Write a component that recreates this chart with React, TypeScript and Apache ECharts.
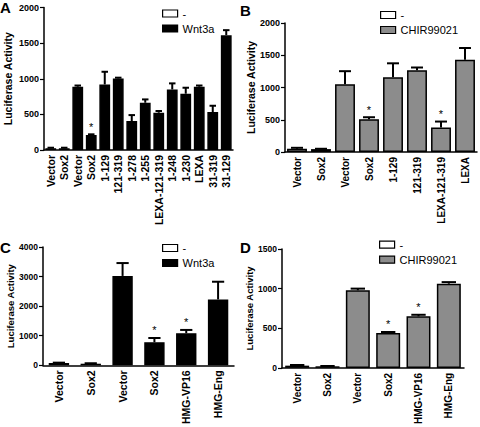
import React, { useEffect, useRef } from 'react';
import * as echarts from 'echarts';

// ---------- data ----------
const catsA = ['Vector', 'Sox2', 'Vector', 'Sox2', '1-129', '121-319', '1-278', '1-255', 'LEXA-121-319', '1-248', '1-230', 'LEXA', '31-319', '31-129'];
const valsA = [25, 25, 888, 210, 920, 1005, 406, 663, 523, 850, 790, 888, 533, 1612];
const errA = [32, 32, 905, 220, 1098, 1015, 490, 710, 547, 935, 874, 905, 621, 1682];
const starA = [3];

const catsB = ['Vector', 'Sox2', 'Vector', 'Sox2', '1-129', '121-319', 'LEXA-121-319', 'LEXA'];
const valsB = [50, 45, 1052, 508, 1158, 1268, 379, 1431];
const errB = [65, 50, 1253, 539, 1375, 1310, 472, 1612];
const starB = [3, 6];

const catsC = ['Vector', 'Sox2', 'Vector', 'Sox2', 'HMG-VP16', 'HMG-Eng'];
const valsC = [76, 54, 3022, 783, 1087, 2228];
const errC = [90, 70, 3457, 924, 1196, 2826];
const starC = [3, 4];

const catsD = ['Vector', 'Sox2', 'Vector', 'Sox2', 'HMG-VP16', 'HMG-Eng'];
const valsD = [28, 20, 979, 440, 650, 1062];
const errD = [36, 24, 1000, 453, 670, 1082];
const starD = [3, 4];

const ctrlCount = 2; // first two bars belong to the "-" group
const ctrlName = '-';
const treatA = 'Wnt3a';
const treatB = 'CHIR99021';
const yMax = [2000, 2000, 4000, 1500];
const yStep = [500, 500, 1000, 500];
const letters = ['A', 'B', 'C', 'D'];
const yName = 'Luciferase Activity';

// ---------- layout ----------
const FONT = '"Liberation Sans", Arial, sans-serif';
const panels = [
  { cats: catsA, vals: valsA, err: errA, stars: starA, treat: treatA, grey: false,
    grid: { left: 44, top: 7.5, width: 189, height: 142.5 }, barRatio: 0.8, xFont: 10.5, yFont: 9, nameFont: 10.5, nameGap: 31,
    legend: { left: 162, top: 7.5 }, letter: { x: 0, y: 0 } },
  { cats: catsB, vals: valsB, err: errB, stars: starB, treat: treatB, grey: true,
    grid: { left: 285, top: 23, width: 192, height: 129 }, barRatio: 0.83, xFont: 10, yFont: 9, nameFont: 10.5, nameGap: 28,
    legend: { left: 380, top: 9 }, letter: { x: 240, y: 3 } },
  { cats: catsC, vals: valsC, err: errC, stars: starC, treat: treatA, grey: false,
    grid: { left: 43, top: 247, width: 191, height: 123 }, barRatio: 0.64, xFont: 10.5, yFont: 8.5, nameFont: 9.5, nameGap: 27,
    legend: { left: 162, top: 242 }, letter: { x: 0, y: 240 } },
  { cats: catsD, vals: valsD, err: errD, stars: starD, treat: treatB, grey: true,
    grid: { left: 282, top: 249, width: 182, height: 120 }, barRatio: 0.79, xFont: 10, yFont: 8.5, nameFont: 9.5, nameGap: 25,
    legend: { left: 379, top: 238.7 }, letter: { x: 240, y: 240 } },
];

function buildOption() {
  const grid: any[] = [];
  const xAxis: any[] = [];
  const yAxis: any[] = [];
  const series: any[] = [];
  const legend: any[] = [];
  const graphic: any[] = [];

  panels.forEach((p, i) => {
    grid.push({ ...p.grid, containLabel: false });
    xAxis.push({
      type: 'category',
      gridIndex: i,
      data: p.cats,
      axisLine: { lineStyle: { color: '#000', width: 1.5 } },
      axisTick: { alignWithLabel: true, length: 4, lineStyle: { color: '#000', width: 1.2 } },
      axisLabel: { rotate: 90, interval: 0, fontSize: p.xFont, fontWeight: 'bold', color: '#000', margin: 5, fontFamily: FONT },
    });
    yAxis.push({
      type: 'value',
      gridIndex: i,
      min: 0,
      max: yMax[i],
      interval: yStep[i],
      axisLine: { show: true, lineStyle: { color: '#000', width: 1.5 } },
      axisTick: { show: true, length: 4, lineStyle: { color: '#000', width: 1.2 } },
      splitLine: { show: false },
      axisLabel: { fontSize: p.yFont, fontWeight: 'bold', color: '#000', margin: 5, fontFamily: FONT, formatter: (v: number) => String(v) },
      name: yName,
      nameLocation: 'middle',
      nameGap: p.nameGap,
      nameTextStyle: { fontSize: p.nameFont, fontWeight: 'bold', color: '#000', fontFamily: FONT },
    });
    const bw = (p.grid.width / p.cats.length) * p.barRatio;
    series.push({
      type: 'bar',
      name: ctrlName,
      xAxisIndex: i,
      yAxisIndex: i,
      barWidth: bw,
      barGap: '-100%',
      data: p.vals.map((v, k) => (k < ctrlCount ? v : '-')),
      itemStyle: { color: '#fff', borderColor: '#000', borderWidth: 1.5 },
    });
    series.push({
      type: 'bar',
      name: p.treat,
      xAxisIndex: i,
      yAxisIndex: i,
      barWidth: bw,
      barGap: '-100%',
      data: p.vals.map((v, k) => (k >= ctrlCount ? v : '-')),
      itemStyle: p.grey
        ? { color: '#8c8c8c', borderColor: '#000', borderWidth: 1.5 }
        : { color: '#000', borderColor: '#000', borderWidth: 1.5 },
    });
    series.push({
      type: 'custom',
      name: 'err' + i,
      xAxisIndex: i,
      yAxisIndex: i,
      z: 5,
      itemStyle: { color: '#000' },
      encode: { x: 0, y: 1 },
      data: p.vals.map((v, k) => [k, v, p.err[k], p.stars.includes(k) ? 1 : 0]),
      renderItem: (params: any, api: any) => {
        const idx = api.value(0);
        const v = api.value(1);
        const e = api.value(2);
        const s = api.value(3);
        const p0 = api.coord([idx, v]);
        const p1 = api.coord([idx, e]);
        const half = bw * 0.3;
        const children: any[] = [
          { type: 'line', shape: { x1: p0[0], y1: p0[1], x2: p1[0], y2: p1[1] }, style: { stroke: '#000', lineWidth: 2 } },
          { type: 'line', shape: { x1: p1[0] - half, y1: p1[1], x2: p1[0] + half, y2: p1[1] }, style: { stroke: '#000', lineWidth: 2 } },
        ];
        if (s) {
          children.push({
            type: 'text',
            x: p1[0],
            y: p1[1] - 2,
            style: { text: '*', align: 'center', verticalAlign: 'bottom', fontSize: 11, fill: '#000', stroke: 'none', fontFamily: FONT },
          });
        }
        return { type: 'group', children };
      },
    });
    legend.push({
      orient: 'vertical',
      left: p.legend.left,
      top: p.legend.top,
      itemWidth: 15,
      itemHeight: 7,
      itemGap: 3,
      icon: 'rect',
      padding: 0,
      data: [ctrlName, p.treat],
      itemStyle: { borderColor: '#000', borderWidth: 1.2 },
      textStyle: { fontSize: 11, color: '#000', fontFamily: FONT, lineHeight: 12 },
      selectedMode: false,
    });
    graphic.push({
      type: 'text',
      x: p.letter.x,
      y: p.letter.y,
      style: { text: letters[i], fontSize: 15, fontWeight: 'bold', fill: '#000', fontFamily: FONT },
    });
  });

  return {
    animation: false,
    backgroundColor: '#fff',
    textStyle: { fontFamily: FONT },
    grid,
    xAxis,
    yAxis,
    series,
    legend,
    graphic,
  };
}

export default function App() {
  const ref = useRef<HTMLDivElement>(null);
  useEffect(() => {
    if (!ref.current) return;
    const chart = echarts.init(ref.current, undefined, { renderer: 'svg' });
    chart.setOption(buildOption() as any);
    return () => chart.dispose();
  }, []);
  return <div ref={ref} style={{ position: 'absolute', left: 0, top: 0, width: 480, height: 427 }} />;
}
